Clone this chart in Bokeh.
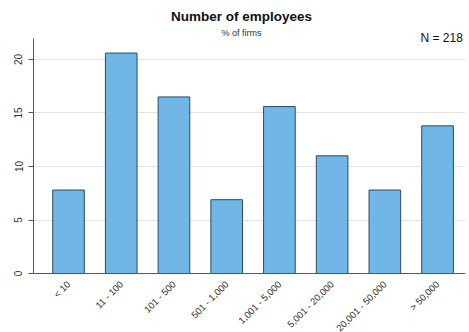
from bokeh.plotting import figure
from bokeh.models import Label, FixedTicker, Range1d, ColumnDataSource, Span
from bokeh.core.properties import value
from bokeh.embed import file_html
from bokeh.resources import INLINE
import math

categories = ["< 10", "11 - 100", "101 - 500", "501 - 1,000", "1,001 - 5,000",
              "5,001 - 20,000", "20,001 - 50,000", "> 50,000"]
pct_firms = [7.8, 20.6, 16.5, 6.9, 15.6, 11.0, 7.8, 13.8]
y_ticks = [0, 5, 10, 15, 20]
title_text = "Number of employees"
subtitle_text = "% of firms"
n_label = "N = 218"

positions = list(range(1, len(categories) + 1))
src = ColumnDataSource(dict(x=positions, top=pct_firms, cat=categories,
                            base=[0] * len(categories)))

FONT = "Liberation Sans"

p = figure(width=469, height=332, output_backend="svg", toolbar_location=None,
           x_range=Range1d(0.336, 8.53), y_range=Range1d(-5.51, 25.51),
           min_border_left=33, min_border_right=4, min_border_top=0, min_border_bottom=0)

p.vbar(x="x", top="top", width=0.6, bottom=0, source=src,
       fill_color="#70B6E6", line_color="#2E4A62", line_width=1)

# category labels under the bars
p.text(x="x", y="base", text="cat", source=src, angle=math.pi / 4,
       text_align="right", text_baseline="middle", y_offset=9, x_offset=0,
       text_font=value(FONT), text_font_size="9.5px", text_color="#333333")

# x axis line
p.add_layout(Span(location=0, dimension="width", line_color="#555555", line_width=1))

p.add_layout(Label(x=4.28, y=24.02, text=title_text, text_align="center",
                   text_baseline="middle", text_font=FONT, text_font_size="13.5px",
                   text_font_style="bold", text_color="#111111"))
p.add_layout(Label(x=4.28, y=22.45, text=subtitle_text, text_align="center",
                   text_baseline="middle", text_font=FONT, text_font_size="9px",
                   text_color="#333333"))
p.add_layout(Label(x=8.48, y=21.96, text=n_label, text_align="right",
                   text_baseline="middle", text_font=FONT,
                   text_font_size="12px", text_color="#111111"))

p.outline_line_color = None
p.background_fill_color = "white"
p.border_fill_color = "white"

p.xaxis.visible = False
p.xgrid.grid_line_color = None
p.ygrid.ticker = FixedTicker(ticks=y_ticks[1:])
p.ygrid.grid_line_color = "#E3E3E3"
p.ygrid.grid_line_width = 1

p.yaxis.ticker = FixedTicker(ticks=y_ticks)
p.yaxis.bounds = (0, 22.0)
p.yaxis.major_label_orientation = "vertical"
p.yaxis.major_label_text_font = FONT
p.yaxis.major_label_text_font_size = "10px"
p.yaxis.major_label_text_color = "#333333"
p.yaxis.major_label_standoff = 6
p.yaxis.axis_line_color = "#555555"
p.yaxis.major_tick_line_color = "#555555"
p.yaxis.major_tick_out = 5
p.yaxis.major_tick_in = 0
p.yaxis.minor_tick_line_color = None

open("out.html", "w").write(file_html(p, INLINE))
